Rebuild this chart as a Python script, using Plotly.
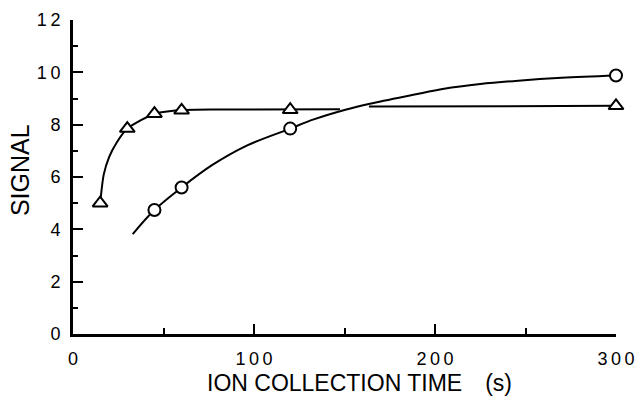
import plotly.graph_objects as go

# Measured points
tri_x = [15, 30, 45, 60, 120, 300]
tri_y = [5.0, 7.85, 8.42, 8.55, 8.57, 8.72]
circ_x = [45, 60, 120, 300]
circ_y = [4.74, 5.6, 7.85, 9.88]

# Hand-drawn fitted curves
tri_curve1_x = [15, 17, 20, 24, 30, 37, 45, 52, 60, 80, 147.5]
tri_curve1_y = [5.0, 6.1, 6.77, 7.3, 7.85, 8.15, 8.42, 8.5, 8.56, 8.58, 8.59]
tri_curve2_x = [163.5, 300]
tri_curve2_y = [8.69, 8.72]
circ_curve_x = [33, 45, 60, 77, 96, 120, 133, 151, 164, 188, 205, 225, 246, 270, 300]
circ_curve_y = [3.82, 4.74, 5.6, 6.46, 7.2, 7.85, 8.2, 8.58, 8.8, 9.14, 9.37, 9.55, 9.68, 9.79, 9.88]

x_ticks = [0, 100, 200, 300]
y_ticks = [0, 2, 4, 6, 8, 10, 12]
x_title = "ION COLLECTION TIME\u2002\u2002(s)"
y_title = "SIGNAL"

SP = "\u2009"
def spaced(v):
    return SP.join(str(v))

FONT = "Liberation Sans, Arial, sans-serif"

fig = go.Figure()
line_style = dict(color="black", width=2)
fig.add_trace(go.Scatter(x=tri_curve1_x, y=tri_curve1_y, mode="lines",
                         line=dict(**line_style, shape="spline", smoothing=0.7),
                         hoverinfo="skip", showlegend=False))
fig.add_trace(go.Scatter(x=tri_curve2_x, y=tri_curve2_y, mode="lines",
                         line=line_style, hoverinfo="skip", showlegend=False))
fig.add_trace(go.Scatter(x=circ_curve_x, y=circ_curve_y, mode="lines",
                         line=dict(**line_style, shape="spline", smoothing=1.0),
                         hoverinfo="skip", showlegend=False))
fig.add_trace(go.Scatter(x=tri_x, y=tri_y, mode="markers",
                         marker=dict(symbol="triangle-up", size=13, color="white",
                                     line=dict(color="black", width=2)),
                         showlegend=False, cliponaxis=False))
fig.add_trace(go.Scatter(x=circ_x, y=circ_y, mode="markers",
                         marker=dict(symbol="circle", size=12, color="white",
                                     line=dict(color="black", width=2)),
                         showlegend=False, cliponaxis=False))

axis_common = dict(showgrid=False, zeroline=False, showline=True, linecolor="black",
                   linewidth=3, ticks="inside", tickcolor="black", tickwidth=2,
                   ticklen=10, automargin=False,
                   tickfont=dict(family=FONT, size=18, color="black"))

fig.update_xaxes(**axis_common, range=[0, 300], tickmode="array", tickvals=x_ticks,
                 ticktext=[spaced(v) for v in x_ticks], ticklabelstandoff=6,
                 minor=dict(dtick=50, tick0=0, ticks="inside", ticklen=6,
                            tickwidth=1.5, tickcolor="black", showgrid=False))
fig.update_yaxes(**axis_common, range=[0, 12], tickmode="array", tickvals=y_ticks,
                 ticktext=[spaced(v) for v in y_ticks], ticklabelstandoff=6,
                 minor=dict(dtick=1, tick0=0, ticks="inside", ticklen=5,
                            tickwidth=1.5, tickcolor="black", showgrid=False))

fig.add_annotation(text=x_title, xref="paper", yref="paper", x=0.527, y=-0.157,
                   xanchor="center", yanchor="middle", showarrow=False,
                   font=dict(family=FONT, size=23, color="black"))
fig.add_annotation(text=y_title, xref="paper", yref="paper", x=-0.0976, y=0.522,
                   xanchor="center", yanchor="middle", showarrow=False, textangle=-90,
                   font=dict(family=FONT, size=25, color="black"))

fig.update_layout(width=638, height=400, margin=dict(l=73, r=22, t=20, b=66),
                  paper_bgcolor="white", plot_bgcolor="white")

fig.write_html("out.html")
